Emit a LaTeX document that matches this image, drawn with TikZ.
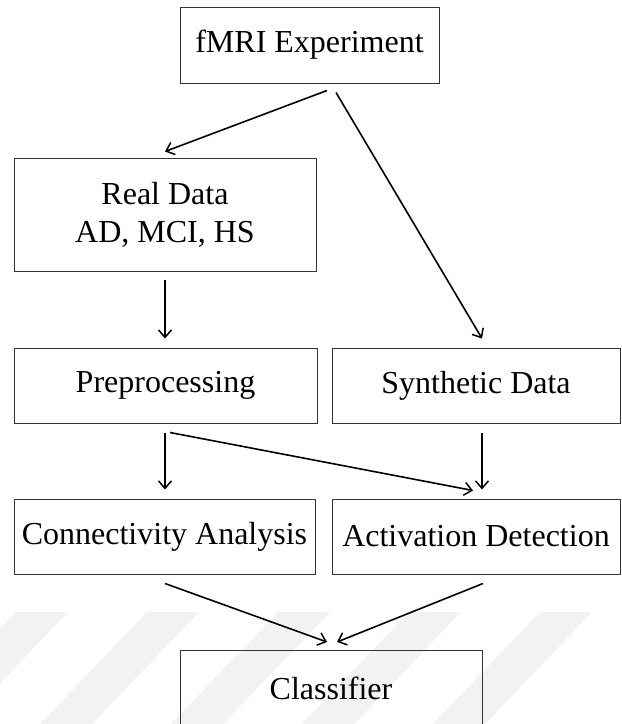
\documentclass[tikz,border=0pt]{standalone}
\usepackage{fontspec}
\setmainfont{Liberation Serif}
\usetikzlibrary{arrows.meta,calc}

\tikzset{
  block/.style={draw=black!80, line width=1pt, rectangle, inner sep=0pt,
    align=center, font=\fontsize{32}{38}\selectfont},
  flow/.style={line width=1.6pt, -{Straight Barb[length=7.5pt,width=13pt,line width=1.5pt]}},
  stripe/.style={fill=black!5, draw=none}
}

\begin{document}
\begin{tikzpicture}[x=1pt,y=-1pt]
  \useasboundingbox (0,0) rectangle (622,724);

  % faint diagonal band pattern along the bottom
  \foreach \s in {16,147,278,409,540} {
    \fill[stripe] (\s,612) -- ++(52,0) -- ++(-107,112) -- ++(-52,0) -- cycle;
  }

  % boxes
  \node[block, minimum width=259pt, minimum height=76pt]  (exp)  at (309.5,45)   {fMRI Experiment};
  \node[block, minimum width=302pt, minimum height=113pt] (real) at (165,214.5)  {Real Data\\AD, MCI, HS};
  \node[block, minimum width=303pt, minimum height=75pt]  (pre)  at (165.5,385.5){Preprocessing};
  \node[block, minimum width=288pt, minimum height=75pt]  (syn)  at (476,385.5)  {Synthetic Data};
  \node[block, minimum width=301pt, minimum height=75pt]  (con)  at (164.5,536.5){Connectivity Analysis};
  \node[block, minimum width=288pt, minimum height=75pt]  (act)  at (476,536.5)  {Activation Detection};
  \node[block, minimum width=302pt, minimum height=75pt]  (cls)  at (331,688)    {Classifier};

  % connectors
  \draw[flow] ($(exp.south)+(17.5,7)$)  -- ($(real.north)+(0,-6)$);
  \draw[flow] ($(exp.south)+(26.5,9)$)  -- ($(syn.north)+(6,-9)$);
  \draw[flow] ($(real.south)+(0,8)$)    -- ($(real.south |- pre.north)+(0,-9)$);
  \draw[flow] ($(pre.south)+(-0.5,9)$)  -- ($(pre.south |- con.north)+(-0.5,-9)$);
  \draw[flow] ($(pre.south)+(4.5,9)$)   -- ($(act.north)+(-3,-8)$);
  \draw[flow] ($(syn.south)+(6,9)$)     -- ($(act.north)+(6,-9)$);
  \draw[flow] ($(con.south)+(0.5,9)$)   -- ($(cls.north)+(-4,-8)$);
  \draw[flow] ($(act.south)+(7,9)$)     -- ($(cls.north)+(6,-8)$);
\end{tikzpicture}
\end{document}
